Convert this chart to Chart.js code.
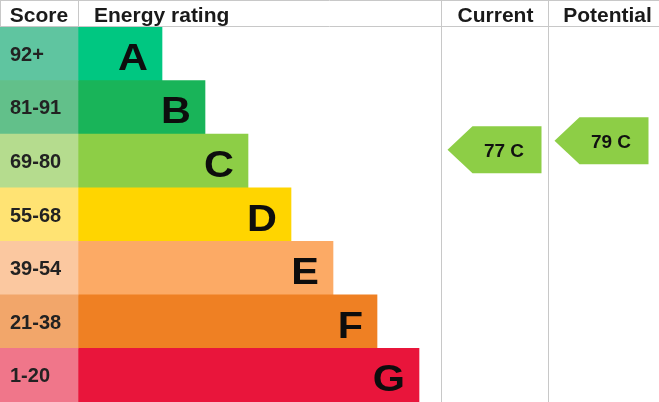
<!DOCTYPE html>
<html><head><meta charset="utf-8">
<script src="https://cdn.jsdelivr.net/npm/chart.js@4.4.0/dist/chart.umd.min.js"></script>
<style>html,body{margin:0;padding:0;background:#fff;} #wrap{width:659px;height:402px;position:relative;}</style>
</head><body><div id="wrap"><canvas id="c"></canvas></div>
<script>
// ---- data ----
const bands = ['A', 'B', 'C', 'D', 'E', 'F', 'G'];
const scoreLabels = ['92+', '81-91', '69-80', '55-68', '39-54', '21-38', '1-20'];
const bandMin = [92, 81, 69, 55, 39, 21, 1];
const bandMax = [100, 91, 80, 68, 54, 38, 20];
const barEnd = [162, 205, 248, 291, 333, 377, 419];
const barColors = ['#00c781', '#19b459', '#8dce46', '#ffd500', '#fcaa65', '#ef8023', '#e9153b'];
const scoreColors = ['#5fc5a0', '#62c08a', '#b5dc8e', '#ffe373', '#fbc8a0', '#f2a66a', '#f0768a'];
const headers = ['Score', 'Energy rating', 'Current', 'Potential'];
const columnEdges = [0, 78, 441, 548, 659];
const currentScore = 77, currentBand = 'C';
const potentialScore = 79, potentialBand = 'C';

const FONT = '"Liberation Sans", Arial, sans-serif';
const LINE = '#c8c8c8';

const tablePlugin = {
  id: 'table',
  afterDatasetsDraw(chart) {
    const ctx = chart.ctx, xs = chart.scales.x, ys = chart.scales.y;
    const W = chart.width, H = chart.height, top = chart.chartArea.top;
    const px = v => xs.getPixelForValue(v);
    ctx.save();
    // grid lines
    ctx.strokeStyle = LINE; ctx.lineWidth = 1;
    ctx.beginPath();
    ctx.moveTo(0, 0.5); ctx.lineTo(W, 0.5);
    ctx.moveTo(0, top - 0.5); ctx.lineTo(W, top - 0.5);
    ctx.moveTo(0.5, 0); ctx.lineTo(0.5, top);
    ctx.moveTo(Math.round(px(columnEdges[1])) + 0.5, 0); ctx.lineTo(Math.round(px(columnEdges[1])) + 0.5, top);
    ctx.moveTo(Math.round(px(columnEdges[2])) + 0.5, 0); ctx.lineTo(Math.round(px(columnEdges[2])) + 0.5, H);
    ctx.moveTo(Math.round(px(columnEdges[3])) + 0.5, 0); ctx.lineTo(Math.round(px(columnEdges[3])) + 0.5, H);
    ctx.stroke();
    // headers
    ctx.fillStyle = '#1a1a1a';
    ctx.font = 'bold 21px ' + FONT;
    ctx.textBaseline = 'alphabetic';
    ctx.textAlign = 'center';
    ctx.fillText(headers[0], (px(columnEdges[0]) + px(columnEdges[1])) / 2, 22);
    ctx.textAlign = 'left';
    ctx.fillText(headers[1], px(columnEdges[1]) + 16, 22);
    ctx.textAlign = 'center';
    ctx.fillText(headers[2], (px(columnEdges[2]) + px(columnEdges[3])) / 2 + 1, 22);
    ctx.fillText(headers[3], (px(columnEdges[3]) + px(columnEdges[4])) / 2 + 4, 22);
    // score labels & letters
    const barMeta = chart.getDatasetMeta(1);
    bands.forEach((b, i) => {
      const yc = ys.getPixelForValue(i);
      ctx.fillStyle = '#222';
      ctx.font = 'bold 20px ' + FONT;
      ctx.textAlign = 'left';
      ctx.fillText(scoreLabels[i], px(columnEdges[0]) + 10, yc + 7);
      const bar = barMeta.data[i];
      ctx.save();
      ctx.fillStyle = '#0d0d0d';
      ctx.font = 'bold 37px ' + FONT;
      ctx.textAlign = 'right';
      ctx.translate(bar.x - 14, yc + 16);
      ctx.scale(1.12, 1);
      ctx.fillText(b, 0, 0);
      ctx.restore();
    });
    // arrows
    const arrows = [
      { score: currentScore, band: currentBand, col: 2 },
      { score: potentialScore, band: potentialBand, col: 3 }
    ];
    arrows.forEach(a => {
      const bi = bands.indexOf(a.band);
      const frac = (bandMax[bi] + 0.5 - a.score) / (bandMax[bi] - bandMin[bi] + 1);
      const y = ys.getPixelForValue(bi - 0.5 + frac);
      const tipX = px(columnEdges[a.col]) + 6.5;
      const right = tipX + 94, bodyX = tipX + 25, h = 47;
      ctx.fillStyle = barColors[bi];
      ctx.beginPath();
      ctx.moveTo(tipX, y);
      ctx.lineTo(bodyX, y - h / 2);
      ctx.lineTo(right, y - h / 2);
      ctx.lineTo(right, y + h / 2);
      ctx.lineTo(bodyX, y + h / 2);
      ctx.closePath();
      ctx.fill();
      ctx.fillStyle = '#111';
      ctx.font = 'bold 19px ' + FONT;
      ctx.textAlign = 'center';
      ctx.fillText(a.score + ' ' + a.band, (bodyX + right) / 2 - 3, y + 7);
    });
    ctx.restore();
  }
};

new Chart(document.getElementById('c'), {
  type: 'bar',
  data: {
    labels: bands,
    datasets: [
      {
        label: 'Score',
        data: bands.map(() => [columnEdges[0], columnEdges[1]]),
        backgroundColor: scoreColors,
        borderWidth: 0,
        barPercentage: 1, categoryPercentage: 1,
        grouped: false
      },
      {
        label: 'Energy rating',
        data: barEnd.map(e => [columnEdges[1], e]),
        backgroundColor: barColors,
        borderWidth: 0,
        barPercentage: 1, categoryPercentage: 1,
        grouped: false
      }
    ]
  },
  options: {
    indexAxis: 'y',
    responsive: true,
    maintainAspectRatio: false,
    animation: false,
    layout: { padding: { top: 27, left: 0, right: 0, bottom: 0 } },
    plugins: { legend: { display: false }, tooltip: { enabled: false }, title: { display: false } },
    scales: {
      x: { type: 'linear', min: columnEdges[0], max: columnEdges[4], display: false },
      y: { type: 'category', display: false }
    }
  },
  plugins: [tablePlugin]
});
</script>
</body></html>
